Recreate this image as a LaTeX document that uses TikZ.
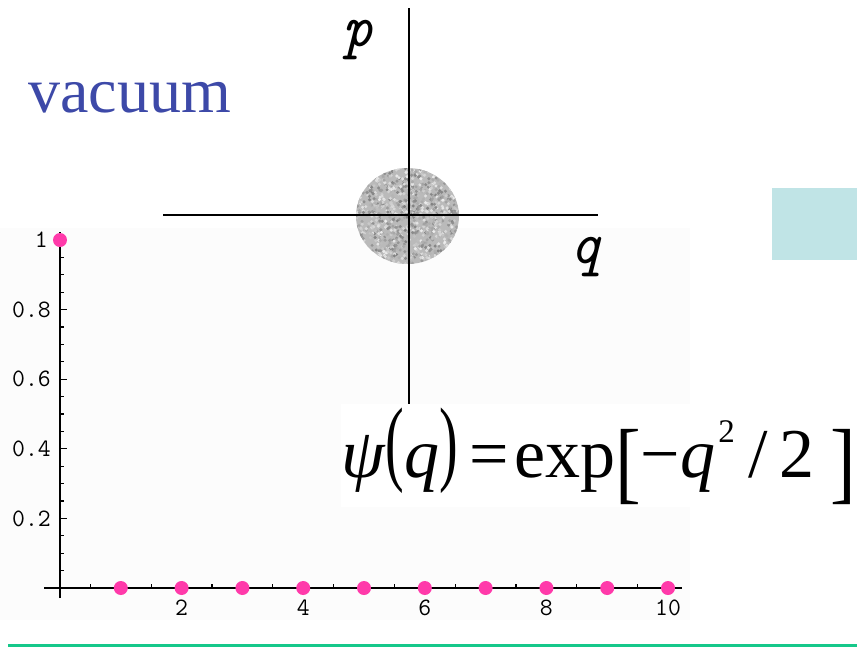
\documentclass[tikz,border=0pt]{standalone}
\usepackage{fontspec}
\setmainfont{Liberation Serif}
\usetikzlibrary{positioning}
\definecolor{vacblue}{RGB}{61,73,168}
\definecolor{dotpink}{RGB}{255,58,170}
\definecolor{boxteal}{RGB}{192,228,230}
\definecolor{rulegreen}{RGB}{22,200,138}
\tikzset{
    axisline/.style={line width=1.8pt, black},
    tickmark/.style={line width=1.2pt, black},
    ticklabel/.style={font=\ttfamily\fontsize{25}{25}\selectfont, inner sep=0pt},
    datapt/.style={circle, fill=dotpink, inner sep=0pt, minimum size=14pt},
    phaseline/.style={line width=1.6pt, black},
    phaselabel/.style={font=\ttfamily\itshape\fontsize{60}{60}\selectfont, inner sep=0pt},
    title/.style={font=\fontsize{64}{64}\selectfont, text=vacblue, inner sep=0pt},
    eqn/.style={font=\fontsize{70}{70}\selectfont, fill=white, inner xsep=0pt, inner ysep=3pt}
}
\newcommand{\eqparen}[1]{\raisebox{4pt}{\scalebox{0.8}[1.35]{#1}}}
\newcommand{\eqbrack}[1]{\raisebox{-15pt}{\scalebox{1.1}[1.3]{#1}}}
\newcommand{\eqsq}{\raisebox{35pt}{\fontsize{33}{33}\selectfont 2}}

\begin{document}
\begin{tikzpicture}[x=1pt, y=-1pt]
    \useasboundingbox (0,0) rectangle (857,649);
    % plot background
    \fill[black!1] (0,228) rectangle (690,620);

    % list plot
    \begin{scope}[shift={(60,588)}, x=60.8pt, y=348pt]
        \draw[axisline] (-0.26,0) -- (10.23,0);
        \draw[axisline] (0,-0.029) -- (0,1.023);
        \foreach \t in {0.5,1,...,10}
            \draw[tickmark] (\t,0) -- ++(0pt,4pt);
        \foreach \t in {0.05,0.1,...,1}
            \draw[tickmark] (0,\t) -- ++(4pt,0pt);
        \foreach \t in {0.2,0.4,0.6,0.8}
            \draw[tickmark] (0,\t) -- ++(7pt,0pt);
        \foreach \v/\s in {0.2/0.2, 0.4/0.4, 0.6/0.6, 0.8/0.8}
            \node (ylab\s) [ticklabel, anchor=east] at ([xshift=-9pt]0,\v) {\s};
        \node (ylab1) [ticklabel, anchor=east] at ([xshift=-12pt]0,1) {1};
        \foreach \n in {2,4,...,10}
            \node (xlab\n) [ticklabel] at ([yshift=-20pt]\n,0) {\n};
        \node (pt0) [datapt] at (0,1) {};
        \foreach \n in {1,...,10}
            \node (pt\n) [datapt] at (\n,0) {};
    \end{scope}

    % phase space: vacuum disk
    \begin{scope}
        \clip (407.5,216) ellipse [x radius=51.5, y radius=48];
        \fill[black!27] (355,167) rectangle (460,265);
        \pgfmathsetseed{11}
        \foreach \k in {1,...,1100}{
            \pgfmathsetmacro\gx{356+103*rnd}
            \pgfmathsetmacro\gy{168+96*rnd}
            \pgfmathsetmacro\gs{int(8+42*rnd)}
            \fill[black!\gs] (\gx,\gy) circle [radius=1.7];
        }
    \end{scope}
    \coordinate (qleft) at (163,215);
    \coordinate (qright) at (598,215);
    \coordinate (ptop) at (409,8);
    \coordinate (pbottom) at (409,410);
    \draw[phaseline] (qleft) -- (qright);
    \draw[phaseline] (ptop) -- (pbottom);
    \node (plab) [phaselabel, anchor=base] at (358,46) {p};
    \node (qlab) [phaselabel, anchor=base] at (585,263) {q};

    \node (vac) [title, anchor=base west] at (28,112) {vacuum};
    \node (wavefn) [eqn, anchor=base west] at (341,477)
        {\textit{ψ}\eqparen{(}\textit{q}\eqparen{)}\,=\hspace{5pt}exp\eqbrack{[}−\textit{q}\hspace{3pt}\eqsq\hspace{14pt}/\,2\hspace{16pt}\eqbrack{]}};

    \fill[boxteal] (772,188) rectangle (857,260);
    \draw[rulegreen, line width=3pt] (8,645) -- (857,645);
\end{tikzpicture}
\end{document}
